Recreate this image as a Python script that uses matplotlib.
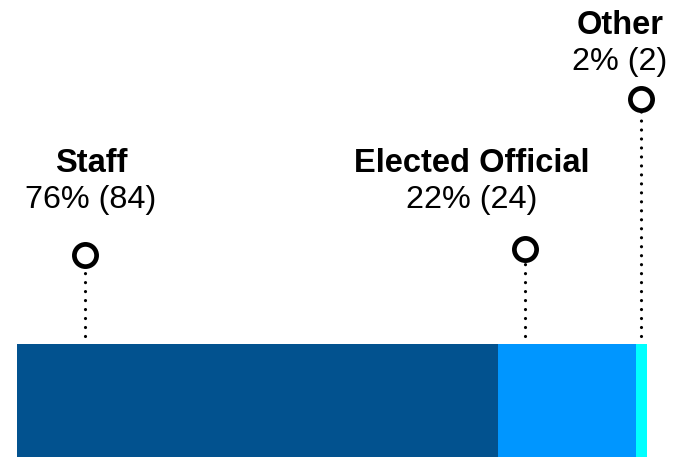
import matplotlib.pyplot as plt
import numpy as np

plt.rcParams['font.family'] = ['Liberation Sans', 'DejaVu Sans']

# ---------------- data ----------------
categories = ["Staff", "Elected Official", "Other"]
counts = [84, 24, 2]
percents = [76, 22, 2]
colors = ["#02528F", "#0096FF", "#00FFFF"]

# ---------------- layout (pixel-ish units, y measured from figure bottom) ----------------
anchor_frac = [0.141, 0.196, 0.5]      # where the pin sits inside each segment
pin_y = [202, 208, 358]                 # circle heights
label_x = [12.9, 79.4, 105.3]           # label centres in data units
label_y = [294, 294, 432]               # bold name line
bar_h = 113
line_bottom = 121

fig = plt.figure(figsize=(6.75, 4.57), dpi=100)
ax = fig.add_axes([17 / 675, 0, 630 / 675, 1])
ax.set_xlim(0, sum(counts))
ax.set_ylim(0, 457)
ax.axis('off')

left = np.concatenate([[0], np.cumsum(counts)[:-1]])
ax.barh(bar_h / 2, counts, left=left, height=bar_h, color=colors, edgecolor='none', zorder=1)

for i, cat in enumerate(categories):
    ax_x = left[i] + counts[i] * anchor_frac[i]
    ax.plot([ax_x, ax_x], [line_bottom, pin_y[i]], color='black', lw=2.3,
            linestyle=(0, (0.01, 2.8)), dash_capstyle='round', zorder=2, clip_on=False)
    ax.plot(ax_x, pin_y[i], marker='o', markersize=16, markerfacecolor='white',
            markeredgecolor='black', markeredgewidth=3.4, zorder=3, clip_on=False)
    ax.text(label_x[i], label_y[i], cat, ha='center', va='center',
            fontsize=23.5, fontweight='bold', color='black')
    ax.text(label_x[i], label_y[i] - 37, f"{percents[i]}% ({counts[i]})", ha='center', va='center',
            fontsize=23.3, color='black')

plt.savefig("out.png", dpi=100)
plt.close()
